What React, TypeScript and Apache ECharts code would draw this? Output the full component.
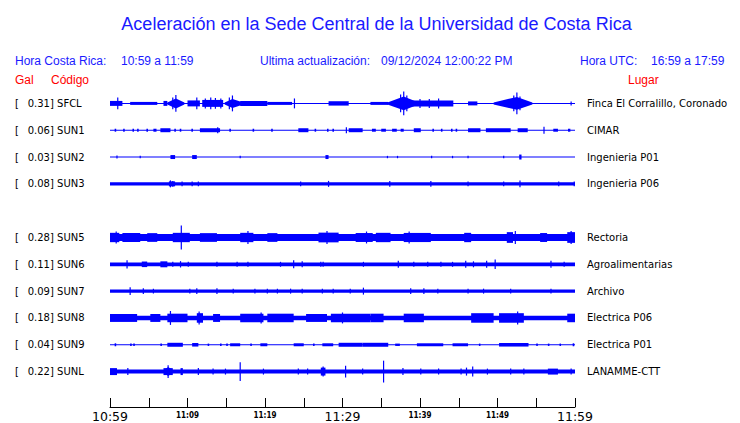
import React, { useEffect, useRef } from "react";
import * as echarts from "echarts";

// ---- Data ----
const rowCodes = ["SFCL", "SUN1", "SUN2", "SUN3", "", "SUN5", "SUN6", "SUN7", "SUN8", "SUN9", "SUNL"];
const galValues = [0.31, 0.06, 0.03, 0.08, null, 0.28, 0.11, 0.09, 0.18, 0.04, 0.22];
const places = [
  "Finca El Corralillo, Coronado", "CIMAR", "Ingenieria P01", "Ingenieria P06", "",
  "Rectoria", "Agroalimentarias", "Archivo", "Electrica P06", "Electrica P01", "LANAMME-CTT",
];
// background envelope half-amplitude (relative units) per trace
const baseAmp = [0.5, 0.6, 0.5, 1.7, 0, 3.6, 1.9, 1.6, 2.3, 0.5, 2];

// segments: [startMinute, endMinute, halfAmplitude]
const segments: number[][][] = [
  [[0, 1.6, 2.5], [2.6, 6.1, 1.5], [6.9, 7.4, 2.5], [10.0, 11.6, 3], [11.9, 14.6, 3.5], [16.8, 20.3, 2.5], [20.3, 23.5, 1.5], [28.2, 30.8, 2.2], [33.6, 35.9, 1.5], [38.8, 44.3, 3], [46.2, 47.4, 2]],
  [[0.6, 0.8, 1.5], [1.7, 1.9, 1.5], [2.9, 3.1, 1.5], [3.5, 3.7, 1.5], [4.7, 4.9, 1.5], [5.6, 6.0, 1.5], [6.5, 7.8, 2], [8.3, 8.5, 1.5], [9.0, 9.2, 1.5], [10.5, 10.7, 1.5], [11.6, 14.2, 2], [15.4, 15.6, 1.5], [18.4, 18.6, 1.5], [20.8, 21.0, 1.5], [24.3, 25.6, 2], [26.4, 26.6, 1.5], [28.0, 28.2, 1.5], [28.7, 28.9, 1.5], [30.8, 32.6, 2], [33.8, 34.3, 1.5], [35.0, 35.6, 1.5], [36.4, 37.0, 1.5], [37.5, 37.9, 1.5], [39.2, 40.1, 2], [41.6, 41.8, 1.5], [42.7, 42.9, 1.5], [44.0, 44.2, 1.5], [44.6, 44.8, 1.5], [46.2, 47.8, 2], [48.5, 51.7, 2], [52.6, 53.9, 2], [57.2, 57.8, 1.5], [59.1, 59.4, 1.5]],
  [[7.8, 8.4, 2], [10.6, 11.2, 2], [27.8, 28.2, 2], [52.8, 53.1, 2.5]],
  [[7.6, 8.4, 2.5]],
  [],
  [[0, 1.2, 4.7], [1.6, 3.9, 4.5], [4.8, 6.1, 4.4], [8.1, 10.3, 4.7], [11.6, 13.8, 4.4], [16.8, 18.5, 4.7], [20.3, 21.6, 4.4], [26.9, 29.5, 4.9], [31.7, 33.9, 4.5], [34.3, 36.2, 4.7], [37.9, 41.4, 4.6], [45.7, 46.6, 4.7], [51.2, 52.0, 5.4], [55.5, 56.4, 4.5], [59.0, 60, 5.4]],
  [[4.1, 4.8, 2.8], [6.5, 7.4, 3]],
  [],
  [[0, 3.5, 4], [5.2, 6.5, 4], [7.4, 10.0, 4.3], [11.2, 12.0, 4.8], [13.3, 14.2, 4], [16.8, 19.8, 4.3], [20.3, 23.7, 4.3], [25.3, 28.0, 4], [28.5, 33.6, 4.3], [33.6, 35.3, 4.3], [37.9, 40.5, 4.3], [46.6, 49.5, 4.8], [50.2, 53.4, 4.8], [59.0, 60, 4.3]],
  [[0.6, 0.8, 1.5], [2.6, 2.8, 1.2], [3.0, 3.2, 1.2], [6.5, 6.7, 1.2], [7.4, 9.4, 2], [10.6, 11.4, 1.8], [12.6, 12.8, 1.2], [14.2, 14.4, 1.2], [15.0, 15.2, 1.2], [15.5, 16.8, 1.5], [18.1, 18.3, 1.2], [19.4, 20.3, 1.5], [23.7, 25.0, 1.5], [26.2, 26.4, 1.2], [27.4, 28.8, 1.5], [29.5, 32.6, 2], [32.6, 35.9, 2], [36.8, 37.4, 1.2], [39.6, 43.0, 1.5], [44.2, 46.2, 1.5], [47.6, 47.8, 1.2], [50.2, 54.0, 1.8], [55.0, 55.2, 1.2], [56.5, 56.7, 1.2], [58.0, 58.2, 1.2], [59.7, 59.9, 1.5]],
  [[0, 0.9, 3.5], [6.9, 8.1, 3.5], [9.1, 9.4, 3.5], [27.2, 27.8, 4], [56.5, 57.8, 3]],
];

// spikes: [minute, halfAmplitude]
const spikes: number[][][] = [
  [[1.0, 6], [8.5, 8.5], [8.1, 6], [11.2, 6], [12.3, 5], [13.0, 6], [13.6, 5.5], [14.3, 5], [15.8, 8], [15.4, 6], [23.8, 5], [37.9, 12], [37.5, 9], [38.3, 8], [40.0, 4.5], [41.2, 4.5], [42.4, 5], [52.5, 11], [52.1, 8], [52.9, 7], [59.5, 2]],
  [[13.9, 3], [30.5, 3], [56.0, 3.5]],
  [[0.9, 1.5], [3.9, 1.2], [16.8, 1.2], [35.8, 1.2], [37.1, 1.2], [41.5, 1.2], [44.2, 1.2], [46.2, 1.2], [50.8, 1.2]],
  [[7.8, 3.5], [8.1, 3], [9.3, 2.5], [10.6, 2.5], [11.4, 2.5], [24.6, 2.5], [28.2, 3], [36.1, 3], [41.4, 3], [46.2, 2.5], [50.8, 2.5], [52.9, 3.5], [57.9, 2.5], [59.9, 2.5]],
  [],
  [[0.8, 6], [9.2, 12], [17.8, 6.5], [28.0, 6.5], [33.1, 6], [38.6, 6], [52.3, 6.5], [59.5, 6.5]],
  [[2.2, 4.2], [8.1, 2.5], [9.1, 3.2], [10.1, 2.5], [13.8, 2.5], [16.4, 2.5], [17.8, 2.5], [22.0, 2.5], [23.7, 4], [24.8, 3], [27.2, 2.5], [27.5, 2.5], [32.7, 2.5], [37.2, 3.5], [39.2, 2.5], [41.0, 2.5], [42.7, 2.5], [44.2, 2.5], [45.9, 3.5], [46.9, 3], [48.6, 3.5], [49.7, 4.8], [56.9, 3.5], [58.6, 2.5]],
  [[2.6, 3.8], [4.3, 3], [5.6, 2.5], [10.3, 2.5], [11.2, 3], [13.8, 3], [15.9, 2.5], [18.7, 2.5], [20.3, 2.5], [21.6, 2.5], [23.3, 2.5], [24.8, 2.5], [27.4, 2.5], [28.8, 2.5], [31.0, 2.5], [32.7, 3.5], [38.8, 3], [40.5, 3], [42.3, 2.5], [46.2, 2.5], [48.2, 2.5], [51.7, 2.5], [56.9, 2.5]],
  [[7.8, 7], [11.5, 6.5], [19.5, 5.5], [30.0, 5.5], [52.6, 6.5]],
  [],
  [[2.3, 3.5], [7.5, 6.5], [11.4, 3.5], [13.3, 3], [14.9, 3], [16.8, 9.5], [19.8, 3], [24.3, 3], [25.5, 3], [27.5, 5], [30.4, 6], [32.6, 3], [35.3, 11], [37.8, 3.5], [40.1, 3], [42.4, 3], [45.3, 3], [46.0, 4], [46.8, 5], [48.7, 3], [51.7, 3], [53.4, 3], [59.5, 3]],
];

// spindle-shaped bursts (envelope body): [startMinute, peakMinute, endMinute, halfAmplitude]
const spindles: number[][][] = [
  [[7.4, 8.5, 9.6, 5], [14.8, 15.8, 17.2, 4.5], [35.8, 37.9, 39.8, 7], [49.5, 52.5, 54.5, 6.5]],
  [], [], [], [], [], [], [], [], [],
  [[6.9, 7.5, 8.2, 4.5]],
];

const tickMinutes = [0, 10, 20, 30, 40, 50, 60];
const tickLabels = ["10:59", "11:09", "11:19", "11:29", "11:39", "11:49", "11:59"];
const majorLabels = ["10:59", "11:29", "11:59"];

const BLUE = "#0000ff";
const TITLE_BLUE = "#1a1aff";

export default function App() {
  const ref = useRef<HTMLDivElement>(null);
  useEffect(() => {
    if (!ref.current) return;
    const chart = echarts.init(ref.current, undefined, { renderer: "svg" });

    const traceData: number[][] = [];
    rowCodes.forEach((code, i) => {
      if (!code) return;
      traceData.push([i, 0, 0, 60, baseAmp[i], 0]);
      segments[i].forEach(([a, b, amp]) => traceData.push([i, 0, a, b, amp, 0]));
      spindles[i].forEach(([a, p, b, amp]) => traceData.push([i, 2, a, b, amp, p]));
      spikes[i].forEach(([t, amp]) => traceData.push([i, 1, t, t, amp, 0]));
    });

    const rowIds = rowCodes.map((_, i) => String(i));
    const labelFont = "DejaVu Sans";
    const infoFont = '12px "Liberation Sans"';

    const option: any = {
      animation: false,
      backgroundColor: "#ffffff",
      grid: { left: 110, top: 90, width: 465, height: 297, containLabel: false },
      xAxis: {
        type: "value",
        min: 0,
        max: 60,
        interval: 5,
        position: "bottom",
        offset: 22,
        axisLine: { show: true, lineStyle: { color: "#000", width: 1 } },
        axisTick: { show: true, inside: true, length: 9, lineStyle: { color: "#000", width: 1 } },
        splitLine: { show: false },
        axisLabel: {
          margin: 3,
          showMinLabel: true,
          showMaxLabel: true,
          hideOverlap: false,
          formatter: (v: number) => {
            const k = tickMinutes.indexOf(v);
            if (k < 0) return "";
            const lab = tickLabels[k];
            return majorLabels.includes(lab) ? `{big|${lab}}` : `{small|${lab}}`;
          },
          rich: {
            big: { fontSize: 12.5, fontFamily: labelFont, color: "#000" },
            small: { fontSize: 8, fontFamily: "DejaVu Sans Condensed", color: "#000", fontWeight: "bold", padding: [1, 0, 0, 0] },
          },
        },
      },
      yAxis: [
        {
          type: "category",
          data: rowIds,
          inverse: true,
          axisLine: { show: false },
          axisTick: { show: false },
          splitLine: { show: false },
          axisLabel: {
            margin: 95,
            align: "left",
            formatter: (_v: string, i: number) =>
              rowCodes[i] ? `{b|[}{t|${(galValues[i] as number).toFixed(2)}] ${rowCodes[i]}}` : "",
            rich: {
              b: { width: 12.7, fontSize: 10, fontFamily: labelFont, color: "#000" },
              t: { fontSize: 10, fontFamily: labelFont, color: "#000" },
            },
          },
        },
        {
          type: "category",
          data: rowIds,
          inverse: true,
          position: "right",
          axisLine: { show: false },
          axisTick: { show: false },
          splitLine: { show: false },
          axisLabel: {
            margin: 12,
            align: "left",
            fontSize: 10,
            fontFamily: labelFont,
            color: "#000",
            formatter: (_v: string, i: number) => places[i],
          },
        },
      ],
      graphic: [
        { type: "text", x: 376.5, y: 24, style: { text: "Aceleración en la Sede Central de la Universidad de Costa Rica", fill: TITLE_BLUE, font: 'normal 18px "Liberation Sans"', align: "center", verticalAlign: "middle" } },
        { type: "text", x: 15, y: 61, style: { text: "Hora Costa Rica:", fill: TITLE_BLUE, font: infoFont, verticalAlign: "middle" } },
        { type: "text", x: 121, y: 61, style: { text: "10:59 a 11:59", fill: TITLE_BLUE, font: infoFont, verticalAlign: "middle" } },
        { type: "text", x: 260, y: 61, style: { text: "Ultima actualización:", fill: TITLE_BLUE, font: infoFont, verticalAlign: "middle" } },
        { type: "text", x: 381, y: 61, style: { text: "09/12/2024 12:00:22 PM", fill: TITLE_BLUE, font: infoFont, verticalAlign: "middle" } },
        { type: "text", x: 580, y: 61, style: { text: "Hora UTC:", fill: TITLE_BLUE, font: infoFont, verticalAlign: "middle" } },
        { type: "text", x: 651, y: 61, style: { text: "16:59 a 17:59", fill: TITLE_BLUE, font: infoFont, verticalAlign: "middle" } },
        { type: "text", x: 15, y: 80, style: { text: "Gal", fill: "#ff0000", font: infoFont, verticalAlign: "middle" } },
        { type: "text", x: 51, y: 80, style: { text: "Código", fill: "#ff0000", font: infoFont, verticalAlign: "middle" } },
        { type: "text", x: 628, y: 80, style: { text: "Lugar", fill: "#ff0000", font: infoFont, verticalAlign: "middle" } },
      ],
      series: [
        {
          type: "custom",
          xAxisIndex: 0,
          yAxisIndex: 0,
          silent: true,
          clip: false,
          encode: { x: [2, 3], y: 0 },
          data: traceData,
          renderItem: (_params: any, api: any) => {
            const row = api.value(0);
            const kind = api.value(1);
            const t0 = api.value(2);
            const t1 = api.value(3);
            const amp = api.value(4);
            const tp = api.value(5);
            const rowPx = api.size([0, 1])[1];
            const a = Math.max(0.5, (amp * rowPx) / 27);
            const p0 = api.coord([t0, row]);
            const p1 = api.coord([t1, row]);
            const style = { fill: BLUE, stroke: null };
            if (kind === 1) {
              return { type: "rect", shape: { x: p0[0] - 0.6, y: p0[1] - a, width: 1.2, height: 2 * a }, style };
            }
            if (kind === 2) {
              const pp = api.coord([tp, row]);
              return {
                type: "polygon",
                shape: { points: [[p0[0], p0[1] - 1], [pp[0], pp[1] - a], [p1[0], p1[1] - 1], [p1[0], p1[1] + 1], [pp[0], pp[1] + a], [p0[0], p0[1] + 1]] },
                style,
              };
            }
            return { type: "rect", shape: { x: p0[0], y: p0[1] - a, width: Math.max(1, p1[0] - p0[0]), height: 2 * a }, style };
          },
        },
      ],
    };
    chart.setOption(option);
    return () => chart.dispose();
  }, []);
  return <div ref={ref} style={{ position: "fixed", left: 0, top: 0, width: 740, height: 423, background: "#fff" }} />;
}
